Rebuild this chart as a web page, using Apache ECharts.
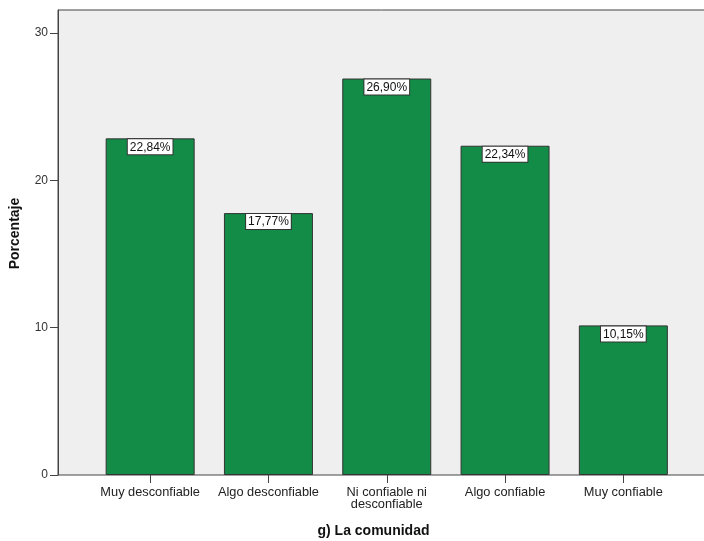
<!DOCTYPE html>
<html>
<head>
<meta charset="utf-8">
<script src="https://cdn.jsdelivr.net/npm/echarts@6/dist/echarts.min.js"></script>
<style>html,body{margin:0;padding:0;background:#fff}#c{width:704px;height:541px}</style>
</head>
<body>
<div id="c"></div>
<script>
const categories = ['Muy desconfiable', 'Algo desconfiable', 'Ni confiable ni\ndesconfiable', 'Algo confiable', 'Muy confiable'];
const values = [22.84, 17.77, 26.90, 22.34, 10.15];
const yTicks = [0, 10, 20, 30];
const yMax = 31.55;
const xTitle = 'g) La comunidad';
const yTitle = 'Porcentaje';

const chart = echarts.init(document.getElementById('c'), null, {renderer: 'canvas'});
chart.setOption({
  animation: false,
  backgroundColor: '#ffffff',
  textStyle: {fontFamily: 'Arial, "Liberation Sans", sans-serif'},
  grid: [
    {left: 58, top: 10, right: -20, bottom: 66, show: true, backgroundColor: '#efefef',
     borderColor: '#444444', borderWidth: 1, outerBoundsMode: 'none', containLabel: false},
    {left: 91, top: 10, width: 591.5, bottom: 66, outerBoundsMode: 'none', containLabel: false}
  ],
  xAxis: [
    {gridIndex: 0, type: 'value', show: false, min: 0, max: 1},
    {gridIndex: 1, type: 'category', data: categories,
     axisLine: {show: false},
     axisTick: {show: true, alignWithLabel: true, length: 8, lineStyle: {color: '#444', width: 1}},
     axisLabel: {color: '#222', fontSize: 12.8, lineHeight: 12, margin: 11, interval: 0}}
  ],
  yAxis: [
    {gridIndex: 0, type: 'value', min: 0, max: yMax,
     axisLine: {show: true, lineStyle: {color: '#444'}},
     axisTick: {show: true, length: 8, lineStyle: {color: '#444'}, customValues: yTicks},
     axisLabel: {color: '#333', fontSize: 12, margin: 10, customValues: yTicks},
     splitLine: {show: false}},
    {gridIndex: 1, type: 'value', min: 0, max: yMax, show: false, splitLine: {show: false}}
  ],
  graphic: [
    {type: 'text', x: 15, y: 233.5, rotation: Math.PI / 2,
     style: {text: yTitle, fontSize: 14, fontWeight: 'bold', fill: '#111', align: 'center', verticalAlign: 'middle',
       fontFamily: 'Arial, "Liberation Sans", sans-serif'}},
    {type: 'text', x: 373.5, y: 531,
     style: {text: xTitle, fontSize: 14, fontWeight: 'bold', fill: '#111', align: 'center', verticalAlign: 'middle',
       fontFamily: 'Arial, "Liberation Sans", sans-serif'}}
  ],
  series: [{
    type: 'bar', xAxisIndex: 1, yAxisIndex: 1,
    data: values, barWidth: 89,
    itemStyle: {color: '#138c48', borderColor: '#333333', borderWidth: 1},
    label: {show: true, position: 'insideTop', distance: 1,
      formatter: p => p.value.toFixed(2).replace('.', ',') + '%',
      color: '#111', fontSize: 12, backgroundColor: '#ffffff',
      borderColor: '#333', borderWidth: 1, padding: [2, 2, 1, 2]}
  }]
});
</script>
</body>
</html>
